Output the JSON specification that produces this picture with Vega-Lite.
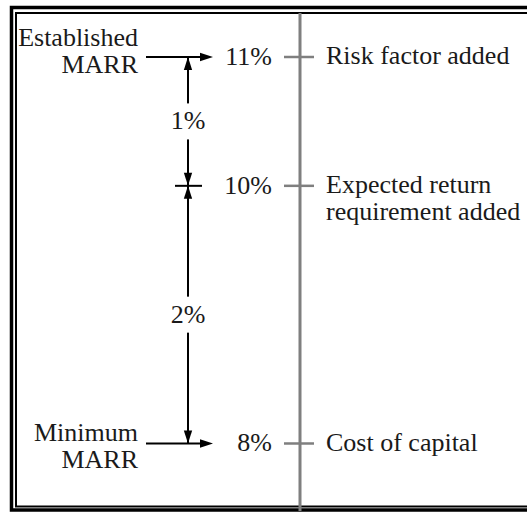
{
  "$schema": "https://vega.github.io/schema/vega-lite/v6.json",
  "width": 527,
  "height": 514,
  "autosize": {"type": "fit", "contains": "padding"},
  "padding": 0,
  "background": "white",
  "config": {
    "view": {"stroke": null},
    "text": {"font": "Liberation Serif", "fontSize": 26, "color": "#1a1a1a"}
  },
  "datasets": {
    "levels": [
      {"rate": 11, "pct": "11%", "desc": "Risk factor added"},
      {"rate": 10, "pct": "10%", "desc": "Expected return\nrequirement added"},
      {"rate": 8, "pct": "8%", "desc": "Cost of capital"}
    ],
    "marr": [
      {"rate": 11, "name": "Established\nMARR"},
      {"rate": 8, "name": "Minimum\nMARR"}
    ],
    "steps": [
      {"from": 11, "to": 10, "mid": 10.5, "diff": "1%"},
      {"from": 10, "to": 8, "mid": 9, "diff": "2%"}
    ]
  },
  "layer": [
    {
      "data": {"values": [{}]},
      "mark": {"type": "rect", "fillOpacity": 0, "stroke": "black", "strokeWidth": 3.5, "clip": true},
      "encoding": {
        "x": {"datum": 11.5, "type": "quantitative", "scale": {"domain": [0, 527], "nice": false, "zero": false}, "axis": null},
        "x2": {"datum": 560},
        "y": {"datum": 11.3842, "type": "quantitative", "scale": {"domain": [7.4527, 11.4424], "nice": false, "zero": false}, "axis": null},
        "y2": {"datum": 7.4837}
      }
    },
    {
      "data": {"values": [{}]},
      "mark": {"type": "rect", "fillOpacity": 0, "stroke": "black", "strokeWidth": 2, "clip": true},
      "encoding": {
        "x": {"datum": 16, "type": "quantitative", "scale": {"domain": [0, 527], "nice": false, "zero": false}, "axis": null},
        "x2": {"datum": 560},
        "y": {"datum": 11.3415, "type": "quantitative", "scale": {"domain": [7.4527, 11.4424], "nice": false, "zero": false}, "axis": null},
        "y2": {"datum": 7.5109}
      }
    },
    {
      "data": {"values": [{}]},
      "mark": {"type": "rule", "color": "#7f7f7f", "strokeWidth": 3},
      "encoding": {
        "x": {"datum": 300, "type": "quantitative", "scale": {"domain": [0, 527], "nice": false, "zero": false}, "axis": null},
        "y": {"datum": 11.3415, "type": "quantitative", "scale": {"domain": [7.4527, 11.4424], "nice": false, "zero": false}, "axis": null},
        "y2": {"datum": 7.476}
      }
    },
    {
      "data": {"name": "levels"},
      "mark": {"type": "rule", "color": "#7f7f7f", "strokeWidth": 2.5},
      "encoding": {
        "x": {"datum": 284, "type": "quantitative", "scale": {"domain": [0, 527], "nice": false, "zero": false}, "axis": null},
        "x2": {"datum": 314},
        "y": {"field": "rate", "type": "quantitative", "scale": {"domain": [7.4527, 11.4424], "nice": false, "zero": false}, "axis": null}
      }
    },
    {
      "data": {"name": "levels"},
      "mark": {"type": "text", "align": "right", "baseline": "middle"},
      "encoding": {
        "x": {"datum": 272, "type": "quantitative", "scale": {"domain": [0, 527], "nice": false, "zero": false}, "axis": null},
        "y": {"field": "rate", "type": "quantitative", "scale": {"domain": [7.4527, 11.4424], "nice": false, "zero": false}, "axis": null},
        "text": {"field": "pct"}
      }
    },
    {
      "data": {"name": "levels"},
      "mark": {"type": "text", "align": "left", "baseline": "line-top", "lineHeight": 27, "lineBreak": "\n", "dy": -13.5},
      "encoding": {
        "x": {"datum": 326, "type": "quantitative", "scale": {"domain": [0, 527], "nice": false, "zero": false}, "axis": null},
        "y": {"field": "rate", "type": "quantitative", "scale": {"domain": [7.4527, 11.4424], "nice": false, "zero": false}, "axis": null},
        "text": {"field": "desc"}
      }
    },
    {
      "data": {"name": "marr"},
      "transform": [{"filter": "datum.rate == 11"}],
      "mark": {"type": "text", "align": "right", "baseline": "line-top", "lineHeight": 27, "lineBreak": "\n", "dy": -31.5},
      "encoding": {
        "x": {"datum": 138, "type": "quantitative", "scale": {"domain": [0, 527], "nice": false, "zero": false}, "axis": null},
        "y": {"field": "rate", "type": "quantitative", "scale": {"domain": [7.4527, 11.4424], "nice": false, "zero": false}, "axis": null},
        "text": {"field": "name"}
      }
    },
    {
      "data": {"name": "marr"},
      "transform": [{"filter": "datum.rate == 8"}],
      "mark": {"type": "text", "align": "right", "baseline": "line-top", "lineHeight": 27, "lineBreak": "\n", "dy": -23},
      "encoding": {
        "x": {"datum": 138, "type": "quantitative", "scale": {"domain": [0, 527], "nice": false, "zero": false}, "axis": null},
        "y": {"field": "rate", "type": "quantitative", "scale": {"domain": [7.4527, 11.4424], "nice": false, "zero": false}, "axis": null},
        "text": {"field": "name"}
      }
    },
    {
      "data": {"name": "marr"},
      "mark": {"type": "rule", "color": "black", "strokeWidth": 2},
      "encoding": {
        "x": {"datum": 146, "type": "quantitative", "scale": {"domain": [0, 527], "nice": false, "zero": false}, "axis": null},
        "x2": {"datum": 208},
        "y": {"field": "rate", "type": "quantitative", "scale": {"domain": [7.4527, 11.4424], "nice": false, "zero": false}, "axis": null}
      }
    },
    {
      "data": {"name": "marr"},
      "mark": {"type": "point", "shape": "M0,0L-1,-0.32L-1,0.32Z", "size": 676, "filled": true, "color": "black", "opacity": 1, "strokeWidth": 0},
      "encoding": {
        "x": {"datum": 213, "type": "quantitative", "scale": {"domain": [0, 527], "nice": false, "zero": false}, "axis": null},
        "y": {"field": "rate", "type": "quantitative", "scale": {"domain": [7.4527, 11.4424], "nice": false, "zero": false}, "axis": null}
      }
    },
    {
      "data": {"name": "steps"},
      "mark": {"type": "rule", "color": "black", "strokeWidth": 2},
      "encoding": {
        "x": {"datum": 188, "type": "quantitative", "scale": {"domain": [0, 527], "nice": false, "zero": false}, "axis": null},
        "y": {"field": "from", "type": "quantitative", "scale": {"domain": [7.4527, 11.4424], "nice": false, "zero": false}, "axis": null},
        "y2": {"field": "to"}
      }
    },
    {
      "data": {"name": "steps"},
      "transform": [{"filter": "datum.from == 11"}],
      "mark": {"type": "rule", "color": "black", "strokeWidth": 2},
      "encoding": {
        "x": {"datum": 175, "type": "quantitative", "scale": {"domain": [0, 527], "nice": false, "zero": false}, "axis": null},
        "x2": {"datum": 202},
        "y": {"field": "to", "type": "quantitative", "scale": {"domain": [7.4527, 11.4424], "nice": false, "zero": false}, "axis": null}
      }
    },
    {
      "data": {"name": "steps"},
      "mark": {"type": "point", "shape": "M-0.4,-1L0.4,-1L0.4,1L-0.4,1Z", "size": 1296, "filled": true, "color": "white", "opacity": 1, "strokeWidth": 0},
      "encoding": {
        "x": {"datum": 188, "type": "quantitative", "scale": {"domain": [0, 527], "nice": false, "zero": false}, "axis": null},
        "y": {"field": "mid", "type": "quantitative", "scale": {"domain": [7.4527, 11.4424], "nice": false, "zero": false}, "axis": null}
      }
    },
    {
      "data": {"name": "steps"},
      "mark": {"type": "text", "align": "center", "baseline": "middle"},
      "encoding": {
        "x": {"datum": 188, "type": "quantitative", "scale": {"domain": [0, 527], "nice": false, "zero": false}, "axis": null},
        "y": {"field": "mid", "type": "quantitative", "scale": {"domain": [7.4527, 11.4424], "nice": false, "zero": false}, "axis": null},
        "text": {"field": "diff"}
      }
    },
    {
      "data": {"name": "steps"},
      "mark": {"type": "point", "shape": "M0,0L-0.32,1L0.32,1Z", "size": 676, "filled": true, "color": "black", "opacity": 1, "strokeWidth": 0},
      "encoding": {
        "x": {"datum": 188, "type": "quantitative", "scale": {"domain": [0, 527], "nice": false, "zero": false}, "axis": null},
        "y": {"field": "from", "type": "quantitative", "scale": {"domain": [7.4527, 11.4424], "nice": false, "zero": false}, "axis": null}
      }
    },
    {
      "data": {"name": "steps"},
      "mark": {"type": "point", "shape": "M0,0L-0.32,-1L0.32,-1Z", "size": 676, "filled": true, "color": "black", "opacity": 1, "strokeWidth": 0},
      "encoding": {
        "x": {"datum": 188, "type": "quantitative", "scale": {"domain": [0, 527], "nice": false, "zero": false}, "axis": null},
        "y": {"field": "to", "type": "quantitative", "scale": {"domain": [7.4527, 11.4424], "nice": false, "zero": false}, "axis": null}
      }
    }
  ]
}
